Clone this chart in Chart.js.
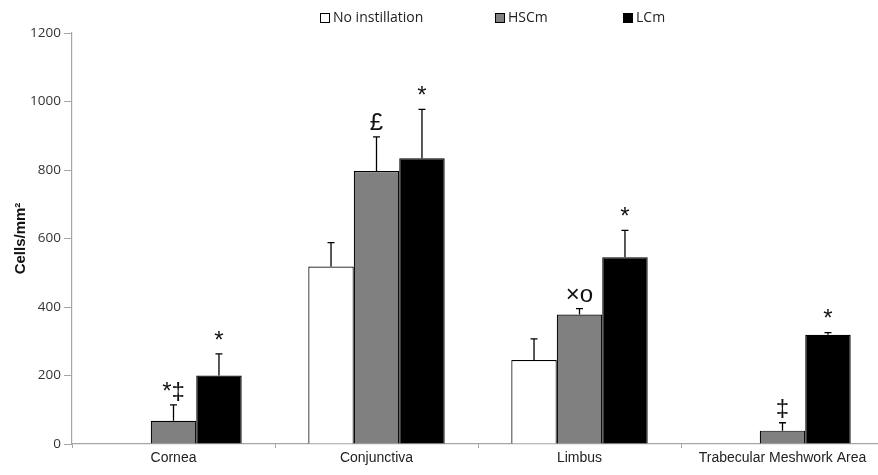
<!DOCTYPE html>
<html>
<head>
<meta charset="utf-8">
<script src="https://cdn.jsdelivr.net/npm/chart.js@4"></script>
<style>
    html, body { margin: 0; padding: 0; background: #fff; overflow: hidden; }
    #wrap { position: relative; width: 878px; height: 475px; overflow: hidden; }
    #chartBox { position: absolute; left: 0; top: 0; width: 886px; height: 475px; }
    #legend { position: absolute; top: 8px; left: 0; width: 878px; height: 20px;
              font-family: "Open Sans", sans-serif; font-size: 14px; color: #222; }
    .item { position: absolute; top: 0; white-space: nowrap; line-height: 18px; }
    .box { display: inline-block; width: 8px; height: 8px; border: 1px solid #000;
           margin-right: 3px; vertical-align: -1px; }
</style>
</head>
<body>
<div id="wrap">
    <div id="chartBox"><canvas id="chart" width="886" height="475"></canvas></div>
    <div id="legend"></div>
</div>
<script>
// ================= DATA =================

const categories = ["Cornea", "Conjunctiva", "Limbus", "Trabecular Meshwork Area"];
const seriesNames = ["No instillation", "HSCm", "LCm"];

const noInstillation = [null, 518, 245, null];
const hscm = [68, 797, 378, 39];
const lcm = [200, 834, 545, 319];

// upper end of the error bars
const noInstillationErr = [null, 588, 307, null];
const hscmErr = [114, 897, 395, 62];
const lcmErr = [263, 977, 624, 325];

// significance marks above the bars
const noInstillationMarks = ["", "", "", ""];
const hscmMarks = ["*\u2021", "\u00a3", "\u00d7o", "\u2021"];
const lcmMarks = ["*", "*", "*", "*"];

const yTicks = [0, 200, 400, 600, 800, 1000, 1200];

const fills = ["#ffffff", "#808080", "#000000"];
const legendLeft = [320, 495, 623];

// ================= LEGEND (html) =================

const legend = document.getElementById("legend");
seriesNames.forEach((name, i) => {
    legend.innerHTML += `<span class="item" style="left:${legendLeft[i]}px">` +
        `<span class="box" style="background:${fills[i]}"></span>${name}</span>`;
});

// ================= ERROR BARS + MARKS =================

const errors = [noInstillationErr, hscmErr, lcmErr];
const marks = [noInstillationMarks, hscmMarks, lcmMarks];

const extrasPlugin = {
    id: "extras",
    afterDatasetsDraw(chart) {
        const ctx = chart.ctx;
        const y = chart.scales.y;
        ctx.save();
        chart.data.datasets.forEach((ds, d) => {
            const meta = chart.getDatasetMeta(d);
            meta.data.forEach((bar, i) => {
                if (ds.data[i] == null) return;
                const top = y.getPixelForValue(ds.data[i]);
                const errTop = y.getPixelForValue(errors[d][i]);
                ctx.strokeStyle = "#000";
                ctx.lineWidth = 1.3;
                ctx.beginPath();
                ctx.moveTo(bar.x, top);
                ctx.lineTo(bar.x, errTop);
                ctx.moveTo(bar.x - 3.5, errTop);
                ctx.lineTo(bar.x + 3.5, errTop);
                ctx.stroke();

                const m = marks[d][i];
                if (m) {
                    ctx.fillStyle = "#111";
                    ctx.font = "24px 'Liberation Sans', Arial, sans-serif";
                    ctx.textAlign = "center";
                    ctx.textBaseline = "middle";
                    ctx.fillText(m, bar.x, errTop - 13);
                }
            });
        });
        ctx.restore();
    }
};

// ================= CHART =================

new Chart(document.getElementById("chart"), {
    type: "bar",
    data: {
        labels: categories,
        datasets: [
            { label: seriesNames[0], data: noInstillation, backgroundColor: fills[0] },
            { label: seriesNames[1], data: hscm, backgroundColor: fills[1] },
            { label: seriesNames[2], data: lcm, backgroundColor: fills[2] }
        ].map(ds => Object.assign(ds, {
            borderColor: "#000",
            borderWidth: 1.2,
            borderSkipped: "bottom",
            categoryPercentage: 0.672,
            barPercentage: 1.0,
            skipNull: false
        }))
    },
    options: {
        responsive: false,
        animation: false,
        layout: { padding: { top: 33, right: 2, left: 0, bottom: 0 } },
        plugins: {
            legend: { display: false },
            tooltip: { enabled: false }
        },
        scales: {
            x: {
                grid: {
                    display: true,
                    offset: true,
                    drawOnChartArea: false,
                    drawTicks: true,
                    tickLength: 4,
                    color: "#a6a6a6"
                },
                border: { color: "#a6a6a6", width: 1.2 },
                ticks: {
                    color: "#222",
                    font: { family: "'Liberation Sans', Arial, sans-serif", size: 14 },
                    padding: 2,
                    maxRotation: 0
                },
                afterFit(scale) { scale.height = 31; }
            },
            y: {
                min: 0,
                max: 1200,
                afterBuildTicks(scale) {
                    scale.ticks = yTicks.map(v => ({ value: v }));
                },
                grid: {
                    display: true,
                    drawOnChartArea: false,
                    drawTicks: true,
                    tickLength: 8,
                    color: "#a6a6a6"
                },
                border: { color: "#a6a6a6", width: 1.2 },
                ticks: {
                    color: "#333",
                    font: { family: "'Open Sans', sans-serif", size: 13.5 },
                    padding: 3,
                    callback: v => String(v)
                },
                title: {
                    display: true,
                    text: "Cells/mm\u00b2",
                    color: "#111",
                    font: { family: "'Liberation Sans', Arial, sans-serif", size: 15, weight: "bold" },
                    padding: { top: 12, bottom: 0 }
                },
                afterFit(scale) { scale.width = 72; }
            }
        }
    },
    plugins: [extrasPlugin]
});
</script>
</body>
</html>
